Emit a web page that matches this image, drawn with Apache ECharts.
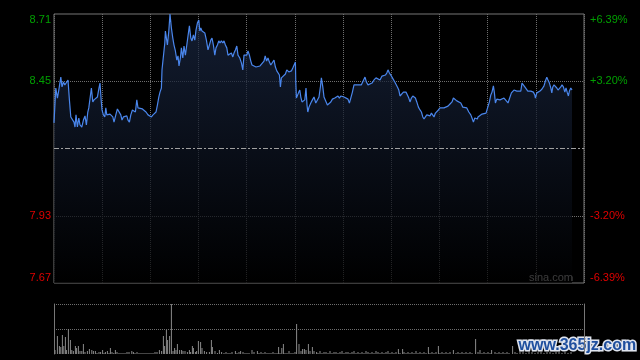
<!DOCTYPE html>
<html><head><meta charset="utf-8">
<script src="https://cdn.jsdelivr.net/npm/echarts@6/dist/echarts.min.js"></script>
<style>html,body{margin:0;padding:0;background:#000;}#c{width:640px;height:360px;}</style>
</head><body><div id="c"></div>
<script>
// ---- data ----
const prevClose = 8.19;
const priceTicks = [7.67, 7.93, 8.19, 8.45, 8.71];
const priceTickLabels = ['7.67', '7.93', '', '8.45', '8.71'];
const pctTickLabels = ['-6.39%', '-3.20%', '', '+3.20%', '+6.39%'];
const timeMax = 265;            // session length in chart units
const timeStep = 265 / 11;      // vertical grid spacing
const volTicks = [0, 25, 50];

// [time, price]
const priceLine = [
[0,8.289],[0.9,8.424],[1.7,8.385],[2.4,8.416],[3.4,8.466],[4.0,8.428],[4.7,8.447],[5.4,8.436],[6.4,8.447],[7.0,8.455],
[7.7,8.378],[8.4,8.312],[9.2,8.308],[10.0,8.292],[10.5,8.273],[11.0,8.320],[11.7,8.273],[12.4,8.308],[13.0,8.281],[13.9,8.273],
[14.7,8.300],[15.5,8.316],[16.2,8.281],[16.9,8.331],[17.4,8.347],[18.0,8.347],[18.7,8.424],[19.4,8.370],[20.0,8.378],[21.0,8.381],
[21.7,8.389],[22.5,8.424],[23.0,8.443],[23.5,8.385],[24.0,8.339],[24.7,8.320],[25.4,8.312],[25.9,8.347],[26.4,8.320],[27.2,8.327],
[28.0,8.323],[28.7,8.327],[29.4,8.312],[30.0,8.292],[30.9,8.320],[31.7,8.343],[32.5,8.339],[33.4,8.320],[34.0,8.300],[34.7,8.312],
[35.5,8.316],[36.4,8.316],[37.0,8.300],[37.7,8.292],[38.4,8.320],[39.2,8.339],[40.0,8.343],[40.7,8.331],[41.4,8.378],[42.0,8.347],
[43.0,8.347],[44.2,8.343],[45.0,8.339],[46.0,8.331],[47.0,8.320],[48.0,8.316],[48.7,8.312],[49.5,8.320],[50.4,8.327],[51.0,8.331],
[51.7,8.358],[52.4,8.389],[53.0,8.408],
[53.7,8.424],[54.0,8.494],[54.7,8.501],[55.4,8.598],[55.7,8.644],[56.2,8.617],[56.7,8.590],[57.4,8.644],[58.0,8.710],[58.7,8.656],
[59.4,8.617],[60.0,8.590],[60.7,8.567],[61.4,8.532],[62.0,8.548],[62.5,8.509],[63.2,8.540],[63.7,8.579],[64.4,8.540],[65.0,8.586],
[65.7,8.551],[66.4,8.590],[67.0,8.625],[67.7,8.664],[68.4,8.617],[69.0,8.606],[69.7,8.629],[70.4,8.609],[71.0,8.648],[71.7,8.675],
[72.4,8.687],[72.9,8.644],[73.4,8.656],[74.0,8.644],[74.7,8.644],[75.4,8.637],[76.2,8.609],[77.0,8.571],[77.7,8.590],[78.4,8.609],
[79.0,8.617],[79.7,8.590],[80.4,8.551],[81.0,8.579],[81.7,8.590],[82.4,8.606],[83.0,8.598],[83.7,8.606],[84.4,8.598],[85.0,8.606],
[85.7,8.590],[86.4,8.579],[87.0,8.551],[87.9,8.551],[88.7,8.559],[89.4,8.544],[90.0,8.559],[90.7,8.571],[91.4,8.586],[92.0,8.551],
[92.9,8.540],[93.7,8.521],[94.4,8.494],[95.0,8.551],[95.7,8.555],[96.4,8.551],[97.0,8.567],[97.7,8.551],[98.4,8.528],[99.0,8.513],
[100.0,8.509],[101.0,8.505],[102.0,8.505],[103.0,8.509],[104.0,8.513],[105.0,8.528],[105.6,8.548],
[106.3,8.528],[107.0,8.540],[107.7,8.524],[108.4,8.513],[109.4,8.517],[110.0,8.532],[110.7,8.505],[111.4,8.490],[112.0,8.494],[112.7,8.474],
[113.2,8.428],[113.7,8.463],[114.7,8.466],[115.7,8.478],[116.4,8.494],[117.4,8.486],[118.0,8.482],[118.7,8.490],[119.4,8.501],[120.0,8.505],
[120.7,8.524],[120.9,8.447],[121.2,8.385],[121.7,8.389],[122.4,8.408],[122.9,8.416],[123.4,8.389],[124.0,8.370],[124.7,8.366],[125.4,8.378],
[126.0,8.424],[126.5,8.358],[126.9,8.331],[127.5,8.350],[128.4,8.366],[129.2,8.378],[130.0,8.389],[130.9,8.366],[131.7,8.370],[132.5,8.389],
[133.2,8.428],[133.7,8.463],[134.4,8.428],[135.0,8.389],[135.9,8.385],[136.7,8.358],[137.5,8.354],[138.4,8.370],[139.2,8.381],[140.4,8.385],
[141.4,8.385],[142.0,8.393],[142.7,8.385],[143.4,8.393],[144.2,8.397],[145.0,8.389],[145.9,8.385],[147.0,8.381],[147.7,8.366],[148.4,8.385],
[149.2,8.408],[150.0,8.436],[151.0,8.436],[152.4,8.436],[153.7,8.436],[154.7,8.443],[155.5,8.466],[156.2,8.447],[157.0,8.436],[158.0,8.436],
[159.0,8.443],[160.0,8.455],[161.0,8.463],[162.0,8.466],[163.0,8.455],[164.0,8.470],[165.0,8.466],[165.7,8.474],[166.4,8.482],[167.0,8.494],
[167.7,8.482],[168.4,8.474],[169.0,8.466],[169.7,8.463],[170.4,8.447],[171.0,8.443],[171.7,8.428],[172.4,8.416],[173.0,8.393],[173.9,8.393],
[174.7,8.408],[175.4,8.412],[176.0,8.408],[176.7,8.397],[177.4,8.385],[178.0,8.370],[178.7,8.385],[179.4,8.393],[180.0,8.397],[180.7,8.385],
[181.4,8.370],[182.2,8.350],[183.0,8.339],[183.7,8.331],[184.4,8.312],[185.0,8.304],[185.7,8.312],[186.4,8.320],[187.2,8.323],[188.0,8.316],
[188.7,8.327],[189.4,8.320],[190.0,8.312],[190.7,8.327],[191.4,8.331],[192.2,8.339],[193.0,8.347],[194.0,8.347],[195.0,8.347],[196.0,8.347],
[197.0,8.354],[198.0,8.362],[199.0,8.370],[199.7,8.385],[200.4,8.378],[201.4,8.374],[202.4,8.370],[203.4,8.366],[204.4,8.350],[205.4,8.350],
[206.4,8.347],[207.4,8.331],[208.4,8.320],[209.0,8.308],[209.7,8.292],[210.4,8.308],[211.0,8.304],[211.7,8.304],
[212.0,8.312],[213.0,8.316],[214.0,8.323],[215.0,8.327],[216.0,8.327],[217.0,8.327],[217.7,8.370],[218.4,8.397],[219.0,8.408],[219.7,8.432],
[220.2,8.405],[220.7,8.366],[221.4,8.381],[222.0,8.385],[223.0,8.378],[224.0,8.385],[225.0,8.385],[226.0,8.378],[227.0,8.366],[228.0,8.366],
[228.7,8.405],[229.4,8.408],[230.0,8.416],[230.7,8.420],[231.4,8.412],[232.4,8.412],[233.4,8.412],[234.0,8.443],[234.7,8.436],[235.4,8.428],
[236.0,8.424],[236.9,8.412],[237.7,8.405],[238.4,8.412],[239.0,8.405],[239.7,8.408],[240.4,8.397],[240.7,8.385],[241.4,8.405],[242.0,8.412],
[243.0,8.412],[244.0,8.420],[245.0,8.432],[245.7,8.451],[246.4,8.466],[247.0,8.455],[247.7,8.443],[248.4,8.424],[248.9,8.405],[249.4,8.428],
[250.0,8.436],[250.7,8.432],[251.4,8.424],[252.0,8.416],[252.7,8.416],[253.4,8.428],[254.0,8.436],[254.7,8.428],[255.4,8.408],[256.0,8.424],
[256.7,8.405],[257.2,8.393],[257.7,8.412],[258.4,8.424],[259.0,8.416]
];

// [time, volume]
const volumeBars = [
[0.5,4],[1.7,18],[2.7,8],[3.4,7],[4.2,19],[4.9,8],[5.7,17],[6.2,4],[7.2,25],[8.2,14],[8.9,4],[9.7,3],[10.7,8],[11.3,6],[12.2,8],
[13,3],[13.9,3],[14.7,10],[15.5,2],[16.7,3],[17.7,5],[18.9,4],[19.7,3],[20.7,3],[21.5,1],[22.5,2],[23.3,2],[24.3,4],[25,1],[25.7,2],
[26.7,3],[27.5,1],[28.2,6],[29,2],[29.9,1],[30.7,4],[31.5,2],[32.5,1],[33.5,1],[34.5,1],[35.5,1],[36.5,2],[37.5,2],[38.9,3],[39.7,2],
[40.5,1],[41.5,2],[42.5,1],[43.5,1],[44.5,1],[45.5,1],[46.5,1],[47.5,1],[48.5,1],[49.5,1],[50.5,2],[51.5,2],[52.7,4],[53.8,3],[54.7,18],
[55.3,8],[56.2,24],[56.8,14],[57.8,18],[58.7,50],[59.5,3],[60.3,6],[61,4],[61.7,10],[62.8,4],[63.8,4],[64.5,3],[65.5,3],[66.7,2],[67.7,4],
[68.3,2],[69.2,8],[69.7,6],[70.7,2],[71.3,3],[72.2,13],[73.3,12],[74,6],[75.2,3],[76.3,2],[77.7,2],[78.7,14],[79.2,7],[80.5,3],[81.7,1],
[82.7,4],[83.8,2],[85,1],[86,2],[87,1],[88,1],[89,2],[90.7,3],[91.5,1],[92.5,2],[93.3,3],[94.5,2],[95.5,1],[96.5,1],[97.5,1],
[99,4],[100,2],[101.7,3],[102.5,1],[103.5,2],[104.5,1],[105.5,2],[106.5,1],[107.5,1],[108.5,1],[109.5,2],[110.5,1],[111.5,1],[112.3,7],[113,1],
[113.9,6],[114.7,10],[115.5,1],[116.5,1],[117.5,3],[118.5,1],[119.5,1],[120.5,2],[121.3,30],[122.5,10],[123.5,3],[124.3,5],[125.2,5],[126,4],[127.2,10],
[128,3],[129.2,7],[130,3],[131.3,2],[132,1],[133,3],[134,1],[135,2],[136,2],[137,1],[138,3],[139,1],[140,2],[141,2],[142,1],
[143,2],[144,3],[145,1],[146,2],[147,2],[148,1],[149,2],[150,3],[151,1],[152,2],[153,1],[154,2],[155,1],[156,3],[157,2],
[158,1],[159,2],[160,1],[161,3],[162,2],[163,1],[164,2],[165,1],[166,2],[167,3],[168,1],[169,2],[170,1],[171,2],[172.2,5],
[173,1],[174.3,5],[175,2],[176,1],[177,2],[178,1],[179,2],[180,1],[181,3],[182,1],[183,2],[184,1],[185,2],[186,1],[187.2,7],
[188,1],[189,2],[190,1],[191,2],[192.2,8],[193,1],[194,2],[195,1],[196,2],[197,1],[198,2],[199.7,4],[201,1],[202,2],[203,1],
[204,2],[205,1],[206,2],[207,1],[208,2],[209,1],[210.8,15],[212,2],[213,4],[214,1],[215,2],[216,1],[217,2],[218,1],[218.8,4],
[220.5,2],[221.5,1],[222.5,2],[223.5,1],[224.5,2],[225.5,1],[226.5,2],[227.5,1],[229.3,8],[230.5,2],[231.5,1],[233,3],[234.5,2],[236,1],[237.5,3],
[239,2],[240.5,1],[242,2],[243.5,3],[245,1],[246.5,2],[248,2],[249.5,1],[251,3],[252.5,2],[254,1],[255.5,2],[257,1],[258.5,2]
];

// ---- chart ----
const GREEN = '#00a000', RED = '#e00000', GRID = '#6e6e6e';
const font = '"Liberation Sans", Arial, sans-serif';
const chart = echarts.init(document.getElementById('c'), null, {renderer: 'canvas'});
const tickIdx = v => priceTicks.findIndex(t => Math.abs(t - v) < 1e-6);
const labelColor = v => (v > prevClose ? GREEN : RED);

chart.setOption({
  backgroundColor: '#000',
  animation: false,
  grid: [
    {left: 54, right: 56, top: 14, height: 269, show: true, borderColor: '#777', borderWidth: 1, backgroundColor: 'transparent'},
    {left: 54, right: 56, top: 304, height: 50, show: false}
  ],
  xAxis: [
    {type: 'value', gridIndex: 0, min: 0, max: timeMax, interval: timeStep,
     axisLine: {show: false}, axisTick: {show: false}, axisLabel: {show: false},
     splitLine: {show: true, lineStyle: {color: GRID, type: [1, 1], width: 1}}},
    {type: 'value', gridIndex: 1, min: 0, max: timeMax, interval: timeStep,
     axisLine: {show: false}, axisTick: {show: false}, axisLabel: {show: false}, splitLine: {show: false}}
  ],
  yAxis: [
    {type: 'value', gridIndex: 0, position: 'left', min: priceTicks[0], max: priceTicks[4], interval: 0.26,
     axisLine: {show: false}, axisTick: {show: false, customValues: priceTicks},
     axisLabel: {show: true, customValues: priceTicks, margin: 3, fontSize: 11, fontFamily: font,
       verticalAlignMinLabel: 'bottom', verticalAlignMaxLabel: 'top',
       formatter: v => priceTickLabels[tickIdx(v)] || '', color: labelColor},
     splitLine: {show: true, lineStyle: {color: ['transparent', GRID, 'transparent', GRID, 'transparent'], type: [1, 1], width: 1}}},
    {type: 'value', gridIndex: 0, position: 'right', min: priceTicks[0], max: priceTicks[4], interval: 0.26,
     axisLine: {show: false}, axisTick: {show: false, customValues: priceTicks},
     axisLabel: {show: true, customValues: priceTicks, margin: 6, fontSize: 11, fontFamily: font,
       verticalAlignMinLabel: 'bottom', verticalAlignMaxLabel: 'top',
       formatter: v => pctTickLabels[tickIdx(v)] || '', color: labelColor},
     splitLine: {show: false}},
    {type: 'value', gridIndex: 1, position: 'left', min: 0, max: 50, interval: 25,
     axisLine: {show: true, lineStyle: {color: '#777'}}, axisTick: {show: false}, axisLabel: {show: false},
     splitLine: {show: true, lineStyle: {color: ['transparent', GRID, GRID], type: [1, 1], width: 1}}},
    {type: 'value', gridIndex: 1, position: 'right', min: 0, max: 50, interval: 25,
     axisLine: {show: true, lineStyle: {color: '#777'}}, axisTick: {show: false}, axisLabel: {show: false},
     splitLine: {show: false}}
  ],
  series: [
    {type: 'line', xAxisIndex: 0, yAxisIndex: 0, data: priceLine, showSymbol: false, symbol: 'none',
     lineStyle: {color: '#4a86ec', width: 1.2},
     areaStyle: {color: new echarts.graphic.LinearGradient(0, 0, 0, 1, [
       {offset: 0, color: '#1b2946'}, {offset: 1, color: '#000000'}])},
     markLine: {silent: true, symbol: 'none', label: {show: false},
       lineStyle: {color: '#a0a0a0', type: [5, 2, 2, 2], width: 1},
       data: [{yAxis: prevClose}]}},
    {type: 'bar', xAxisIndex: 1, yAxisIndex: 2, data: volumeBars, barWidth: 1,
     itemStyle: {color: '#8a8a8a'}}
  ],
  graphic: [
    {type: 'text', right: 67, top: 272, style: {text: 'sina.com', fill: '#c0c0c0', font: '11px ' + font}},
    {type: 'text', left: 517, top: 336, style: {text: 'www.365jz.com', fill: '#1f4f9e',
      stroke: '#dfe4ee', lineWidth: 3, font: 'bold 16px "Liberation Sans", Arial, sans-serif'}}
  ]
});
</script>
</body></html>
